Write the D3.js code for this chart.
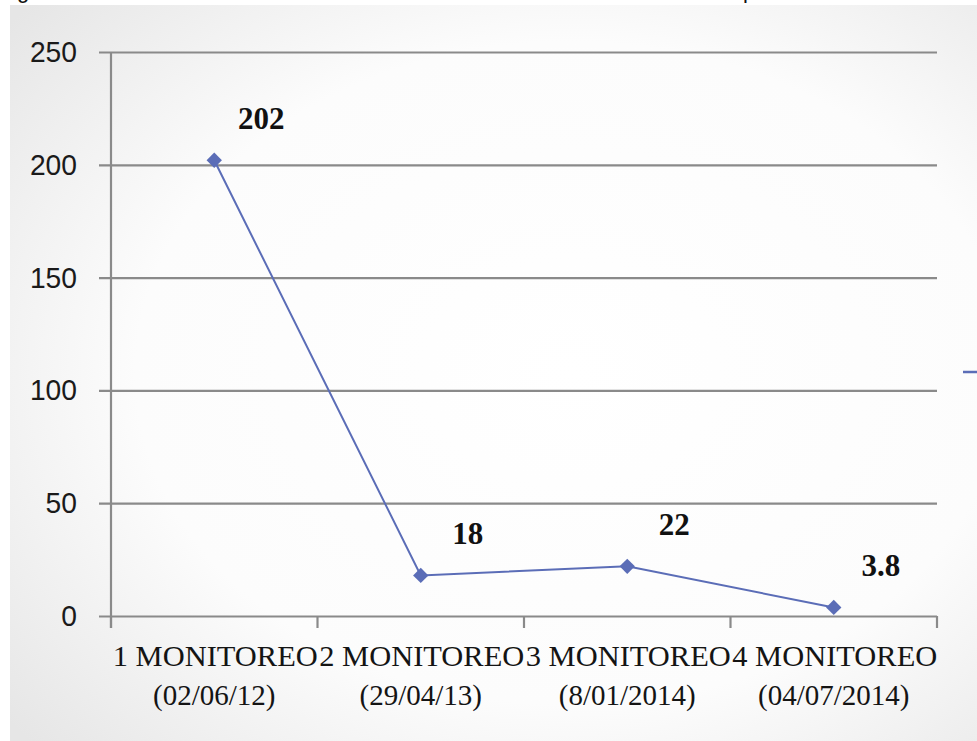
<!DOCTYPE html>
<html>
<head>
<meta charset="utf-8">
<script src="https://cdn.jsdelivr.net/npm/d3@7"></script>
<style>
  html, body { margin: 0; padding: 0; background: #ffffff; }
  svg { display: block; }
</style>
</head>
<body>
<script>
// ---- data ----
const categories = ["1 MONITOREO", "2 MONITOREO", "3 MONITOREO", "4 MONITOREO"];
const dates = ["(02/06/12)", "(29/04/13)", "(8/01/2014)", "(04/07/2014)"];
const values = [202, 18, 22, 3.8];
const valueLabels = ["202", "18", "22", "3.8"];
const yTicks = [0, 50, 100, 150, 200, 250];

// ---- layout ----
const W = 977, H = 741;
const plot = { left: 111, right: 937, top: 52, bottom: 616 };
const lineColor = "#5b6db7";
const gridColor = "#8a8a8a";

const svg = d3.select("body").append("svg").attr("width", W).attr("height", H);

const defs = svg.append("defs");
const grad = defs.append("radialGradient").attr("id", "bg")
  .attr("cx", "58%").attr("cy", "50%").attr("r", "75%");
grad.append("stop").attr("offset", "0%").attr("stop-color", "#ffffff");
grad.append("stop").attr("offset", "60%").attr("stop-color", "#fcfcfc");
grad.append("stop").attr("offset", "100%").attr("stop-color", "#e6e6e6");

svg.append("rect").attr("width", W).attr("height", H).attr("fill", "#ffffff");
svg.append("rect").attr("x", 10).attr("y", 5).attr("width", W - 10).attr("height", H - 5)
  .attr("fill", "url(#bg)");

// clipped caption fragments at the very top (cut off in the source as well)
svg.append("text").attr("x", 17).attr("y", -2).attr("font-family", "Liberation Sans, Arial, sans-serif")
  .attr("font-size", 22).attr("fill", "#111").text("g");
svg.append("text").attr("x", 743).attr("y", -2).attr("font-family", "Liberation Sans, Arial, sans-serif")
  .attr("font-size", 22).attr("fill", "#111").text("p");

const x = d3.scaleBand().domain(categories).range([plot.left, plot.right]).padding(0);
const y = d3.scaleLinear().domain([0, 250]).range([plot.bottom, plot.top]);

// gridlines
const yg = svg.append("g").attr("transform", `translate(${plot.left - 12},0)`)
  .call(d3.axisRight(y).tickValues(yTicks).tickSize(plot.right - plot.left + 12).tickFormat(""));
yg.select(".domain").remove();
yg.selectAll(".tick line").attr("stroke", gridColor).attr("stroke-width", 2.2);

// y-axis vertical line
svg.append("line").attr("x1", plot.left).attr("x2", plot.left)
  .attr("y1", plot.top).attr("y2", plot.bottom + 12)
  .attr("stroke", gridColor).attr("stroke-width", 2.2);

// y tick labels
svg.append("g").selectAll("text").data(yTicks).join("text")
  .attr("x", 77).attr("y", d => y(d) + 10)
  .attr("text-anchor", "end")
  .attr("font-family", "Liberation Sans, Arial, sans-serif")
  .attr("font-size", 30).attr("fill", "#1a1a1a")
  .attr("textLength", d => String(d).length * 15.7).attr("lengthAdjust", "spacingAndGlyphs")
  .text(d => d);

// x axis ticks at band boundaries
const bounds = categories.map(c => x(c)).concat([plot.right]);
svg.append("g").selectAll("line").data(bounds).join("line")
  .attr("x1", d => d).attr("x2", d => d)
  .attr("y1", plot.bottom).attr("y2", plot.bottom + 12)
  .attr("stroke", gridColor).attr("stroke-width", 2.2);

// x labels
const xl = svg.append("g").attr("font-family", "Liberation Serif, 'Times New Roman', serif")
  .attr("fill", "#141414").attr("font-size", 29);
xl.selectAll("text.l1").data(categories).join("text").attr("class", "l1")
  .attr("x", d => x(d) + x.bandwidth() / 2 + 1).attr("y", 666)
  .attr("text-anchor", "middle")
  .attr("textLength", 205).attr("lengthAdjust", "spacingAndGlyphs")
  .text(d => d);
xl.selectAll("text.l2").data(dates).join("text").attr("class", "l2")
  .attr("x", (d, i) => x(categories[i]) + x.bandwidth() / 2).attr("y", 705)
  .attr("text-anchor", "middle")
  .text(d => d);

// line
const pts = values.map((v, i) => [x(categories[i]) + x.bandwidth() / 2, y(v)]);
svg.append("path").datum(pts)
  .attr("d", d3.line())
  .attr("fill", "none").attr("stroke", lineColor).attr("stroke-width", 2);

// diamond markers
svg.append("g").selectAll("path").data(pts).join("path")
  .attr("transform", d => `translate(${d[0]},${d[1]})`)
  .attr("d", d3.symbol().type(d3.symbolDiamond2).size(150))
  .attr("fill", lineColor);

// value labels
svg.append("g").selectAll("text").data(pts).join("text")
  .attr("x", d => d[0] + 47).attr("y", d => d[1] - 31)
  .attr("text-anchor", "middle")
  .attr("font-family", "Liberation Serif, 'Times New Roman', serif")
  .attr("font-weight", "bold").attr("font-size", 31).attr("fill", "#111")
  .text((d, i) => valueLabels[i]);

// clipped legend fragment on the right edge
svg.append("line").attr("x1", 963).attr("x2", 995).attr("y1", 372).attr("y2", 372)
  .attr("stroke", lineColor).attr("stroke-width", 2.5);
</script>
</body>
</html>
